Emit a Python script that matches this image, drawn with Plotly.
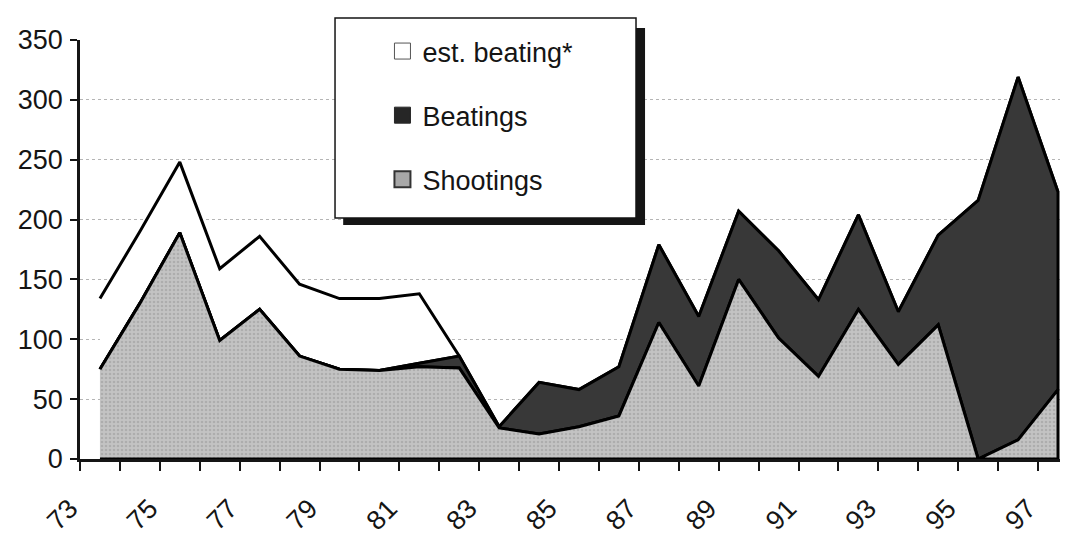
import plotly.graph_objects as go

# ---- data ----
years = [73, 74, 75, 76, 77, 78, 79, 80, 81, 82, 83, 84, 85, 86, 87, 88, 89, 90, 91, 92, 93, 94, 95, 96, 97]
shootings = [75, 130, 189, 99, 125, 86, 75, 74, 77, 76, 26, 21, 27, 36, 114, 61, 150, 101, 69, 125, 79, 112, 0, 16, 58]
beatings = [0, 0, 0, 0, 0, 0, 0, 0, 3, 10, 1, 43, 31, 41, 65, 58, 57, 73, 64, 79, 44, 75, 216, 303, 165]
est_beating = [59, 60, 59, 60, 61, 60, 59, 60, 58, 0, 0, 0, 0, 0, 0, 0, 0, 0, 0, 0, 0, 0, 0, 0, 0]
tick_years = [73, 75, 77, 79, 81, 83, 85, 87, 89, 91, 93, 95, 97]
tick_labels = ["73", "75", "77", "79", "81", "83", "85", "87", "89", "91", "93", "95", "97"]
y_ticks = [0, 50, 100, 150, 200, 250, 300, 350]

FONT = "Liberation Sans, Arial, sans-serif"
INK = "#151515"

lvl1 = shootings
lvl2 = [a + b for a, b in zip(shootings, beatings)]
lvl3 = [a + b for a, b in zip(lvl2, est_beating)]
zeros = [0] * len(years)


def band(lower, upper):
    xs = list(years) + list(reversed(years))
    ys = list(upper) + list(reversed(lower))
    return xs, ys


fig = go.Figure()

x3, y3 = band(lvl2, lvl3)
fig.add_trace(go.Scatter(
    x=x3, y=y3, mode="lines", fill="toself", fillcolor="white",
    line=dict(color="black", width=3), showlegend=False, hoverinfo="skip"))

x2, y2 = band(lvl1, lvl2)
fig.add_trace(go.Scatter(
    x=x2, y=y2, mode="lines", fill="toself", fillcolor="#383838",
    line=dict(color="black", width=3), showlegend=False, hoverinfo="skip"))

x1, y1 = band(zeros, lvl1)
fig.add_trace(go.Scatter(
    x=x1, y=y1, mode="lines", fill="toself", fillcolor="#c2c2c2",
    fillpattern=dict(shape=".", bgcolor="#c3c3c3", fgcolor="#979797", size=4, solidity=0.35),
    line=dict(color="black", width=3), showlegend=False, hoverinfo="skip"))

# legend entries (square swatches like the original key)
legend_items = [
    ("est. beating*", "white", "#555555", 1),
    ("Beatings", "#262626", "#262626", 1),
    ("Shootings", "#a8a8a8", "#333333", 2),
]
for i, (nm, col, lc, lw) in enumerate(legend_items):
    fig.add_trace(go.Scatter(
        x=[None], y=[None], mode="markers", name=nm, legendgroup=f"g{i}",
        marker=dict(symbol="square", size=18, color=col, line=dict(color=lc, width=lw)),
        hoverinfo="skip"))

# the page body adds an 8px offset; margins compensate so the plot lands where the original does
fig.update_layout(
    width=1068, height=535,
    margin=dict(l=72, r=14, t=32, b=84),
    paper_bgcolor="white", plot_bgcolor="white",
    font=dict(family=FONT, size=27, color=INK),
    showlegend=True,
    legend=dict(
        x=0.308, y=1.031, xanchor="left", yanchor="top",
        bgcolor="rgba(0,0,0,0)", borderwidth=0,
        font=dict(family=FONT, size=27, color=INK),
        tracegroupgap=26, itemwidth=30,
    ),
    shapes=[
        dict(type="rect", xref="paper", yref="paper",
             x0=0.268, x1=0.5754, y0=0.5585, y1=1.0286,
             fillcolor=INK, line=dict(width=0), layer="above"),
        dict(type="rect", xref="paper", yref="paper",
             x0=0.2597, x1=0.5662, y0=0.575, y1=1.0525,
             fillcolor="white", line=dict(color=INK, width=1.5), layer="above"),
    ],
)

fig.update_xaxes(
    range=[72.5, 97.1], showgrid=False, zeroline=False, automargin=False,
    showline=True, linecolor=INK, linewidth=3,
    tickmode="array", tickvals=tick_years, ticktext=tick_labels,
    ticks="", tickangle=-45, ticklabelstandoff=20, ticklabelshift=-30,
    tickfont=dict(family=FONT, size=27, color=INK),
    minor=dict(tickmode="linear", tick0=72.5, dtick=1, ticks="outside",
               ticklen=9, tickwidth=2, tickcolor=INK, showgrid=False),
)

fig.update_yaxes(
    range=[0, 350], tickmode="array", tickvals=y_ticks, automargin=False,
    showgrid=True, gridcolor="#b5b5b5", griddash="dot", gridwidth=1,
    zeroline=False, showline=True, linecolor=INK, linewidth=2.5,
    ticks="outside", ticklen=7, tickwidth=2, tickcolor=INK,
    ticklabelstandoff=2,
    tickfont=dict(family=FONT, size=27, color=INK),
)

fig.write_html("out.html")
